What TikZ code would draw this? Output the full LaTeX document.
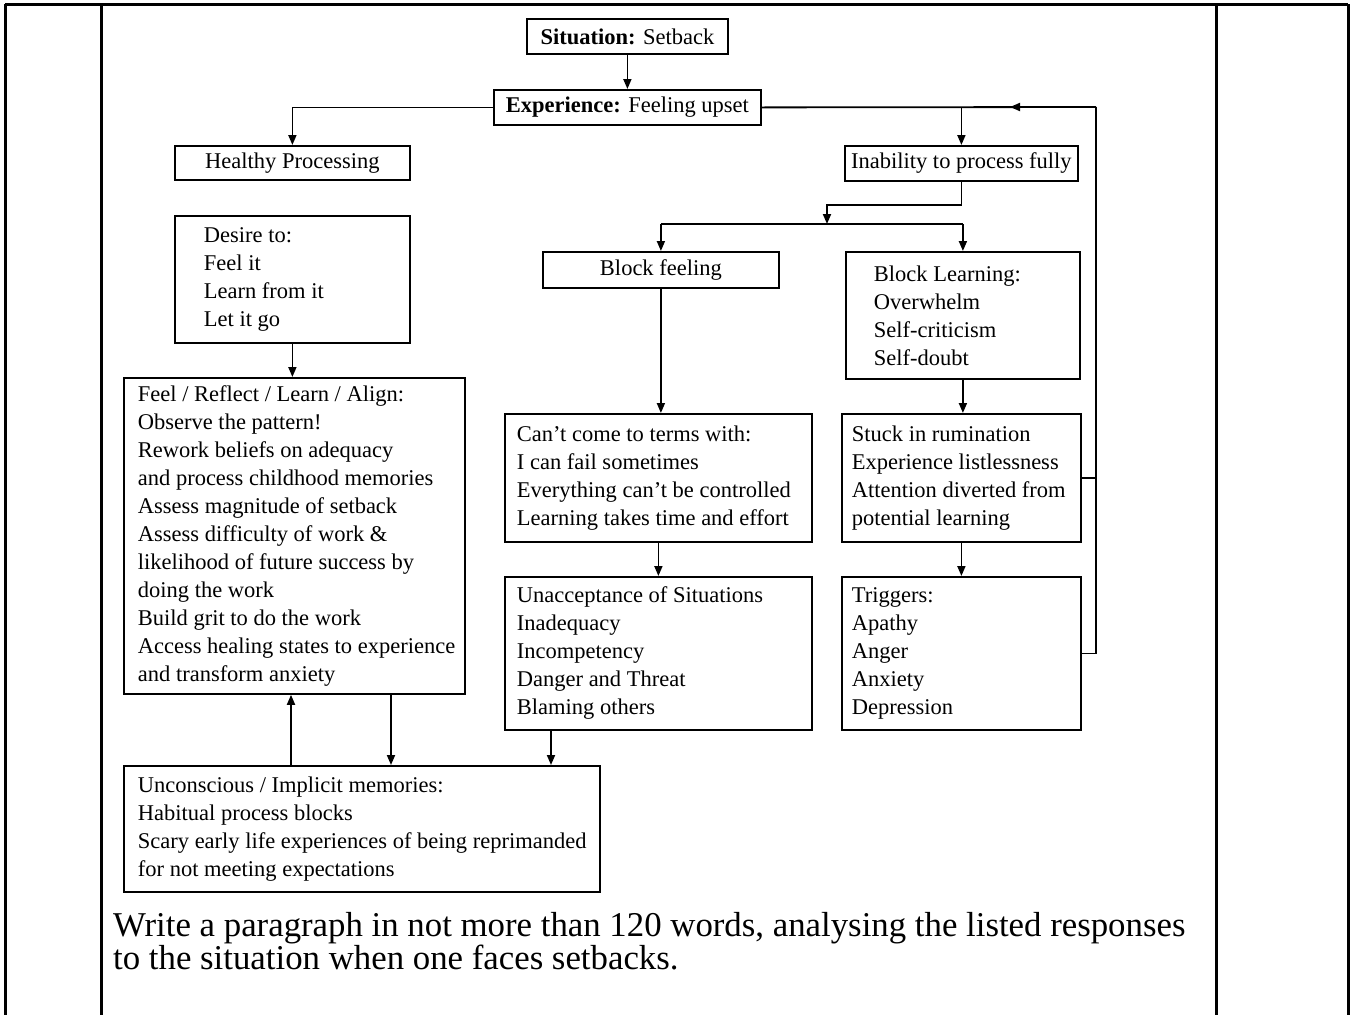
\documentclass[tikz,border=0pt]{standalone}
\usepackage{fontspec}
\setmainfont{Liberation Serif}
\usetikzlibrary{arrows.meta,calc}
\newcommand{\diagfont}{\fontsize{22.5}{28}\selectfont}
\newcommand{\askfont}{\fontsize{34.8}{33}\selectfont}
\newcommand{\ol}[1]{\mbox{#1}}
\begin{document}
\begin{tikzpicture}[x=1pt,y=-1pt,
  box/.style={draw, line width=1.8pt, anchor=north west, inner ysep=0pt, font=\diagfont},
  cbox/.style={box, align=center, inner xsep=2pt},
  lbox/.style={box, align=flush left},
  arr/.style={line width=1.8pt, -{Triangle[length=10pt,width=8pt]}},
  con/.style={line width=1.8pt},
  tab/.style={line width=3pt}]
\useasboundingbox (0,0) rectangle (1354,1015);
% table frame
\draw[tab] (5,4) -- (1348,4);
\draw[tab] (5,4) -- (5,1015);
\draw[tab] (101,4) -- (101,1015);
\draw[tab] (1216,4) -- (1216,1015);
\draw[tab] (1348,4) -- (1348,1015);
% boxes
\node[cbox, minimum width=201, minimum height=35] (sit) at (526,18) {\textbf{Situation:} Setback};
\node[cbox, minimum width=267, minimum height=35] (exp) at (493,89) {\textbf{Experience:} Feeling upset};
\node[cbox, minimum width=235, minimum height=34] (hp) at (174,145) {Healthy Processing};
\node[cbox, minimum width=233, minimum height=35] (inab) at (844,145) {Inability to process fully};
\node[cbox, minimum width=236, minimum height=36] (bf) at (542,251) {Block feeling};
\node[lbox, minimum width=235, minimum height=127, inner xsep=29, text width=177] (desire) at (174,215)
  {\ol{Desire to:}\\\ol{Feel it}\\\ol{Learn from it}\\\ol{Let it go}};
\node[lbox, minimum width=234, minimum height=127, inner xsep=28, text width=178] (bl) at (845,251)
  {\ol{Block Learning:}\\\ol{Overwhelm}\\\ol{Self-criticism}\\\ol{Self-doubt}};
\node[lbox, minimum width=341, minimum height=316, inner xsep=14, text width=313] (feel) at (123,377)
  {\ol{Feel / Reflect / Learn / Align:}\\\ol{Observe the pattern!}\\\ol{Rework beliefs on adequacy}\\\ol{and process childhood memories}\\\ol{Assess magnitude of setback}\\\ol{Assess difficulty of work \&}\\\ol{likelihood of future success by}\\\ol{doing the work}\\\ol{Build grit to do the work}\\\ol{Access healing states to experience}\\\ol{and transform anxiety}};
\node[lbox, minimum width=307, minimum height=128, inner xsep=12, text width=283] (cant) at (504,413)
  {\ol{Can't come to terms with:}\\\ol{I can fail sometimes}\\\ol{Everything can't be controlled}\\\ol{Learning takes time and effort}};
\node[lbox, minimum width=239, minimum height=128, inner xsep=10, text width=219] (stuck) at (841,413)
  {\ol{Stuck in rumination}\\\ol{Experience listlessness}\\\ol{Attention diverted from}\\\ol{potential learning}};
\node[lbox, minimum width=307, minimum height=153, inner xsep=12, text width=283] (unacc) at (504,576)
  {\ol{Unacceptance of Situations}\\\ol{Inadequacy}\\\ol{Incompetency}\\\ol{Danger and Threat}\\\ol{Blaming others}};
\node[lbox, minimum width=239, minimum height=153, inner xsep=10, text width=219] (trig) at (841,576)
  {\ol{Triggers:}\\\ol{Apathy}\\\ol{Anger}\\\ol{Anxiety}\\\ol{Depression}};
\node[lbox, minimum width=476, minimum height=126, inner xsep=14, text width=448] (unc) at (123,765)
  {\ol{Unconscious / Implicit memories:}\\\ol{Habitual process blocks}\\\ol{Scary early life experiences of being reprimanded}\\\ol{for not meeting expectations}};
% question text
\node[anchor=north west, inner sep=0pt, align=flush left, text width=1100, font=\askfont] (ask) at (113,912)
  {\ol{Write a paragraph in not more than 120 words, analysing the listed responses}\\\ol{to the situation when one faces setbacks.}};
% connectors
\coordinate (fbtop) at (1096,107);
\coordinate (fbtip) at (1010,107);
\coordinate (bend) at (827,205);
\coordinate (split) at (827,224);
\coordinate (jl) at (bf.north |- split);
\coordinate (jr) at (bl.north |- split);
\coordinate (u1) at (291,765);
\coordinate (u2) at (391,693);
\coordinate (u3) at (551,729);
\draw[arr] (sit) -- (exp);
\draw[arr] (exp.west) -| (hp.north);
\draw[con] (exp.east) -- (fbtop);
\draw[arr] (fbtop) -- (fbtip);
\draw[arr] (inab.north |- exp.east) -- (inab.north);
\draw[arr] (inab.south) |- (bend) -- (split);
\draw[con] (jl) -- (jr);
\draw[arr] (jl) -- (bf.north);
\draw[arr] (jr) -- (bl.north);
\draw[arr] (bf.south) -- (bf.south |- cant.north);
\draw[arr] (cant.south) -- (unacc.north);
\draw[arr] (bl.south) -- (bl.south |- stuck.north);
\draw[arr] (stuck.south) -- (trig.north);
\draw[arr] (desire.south) -- (desire.south |- feel.north);
\draw[con] (stuck.east) -- (stuck.east -| fbtop);
\draw[con] (trig.east) -| (fbtop);
\draw[arr] (u1) -- (u1 |- feel.south);
\draw[arr] (u2) -- (u2 |- unc.north);
\draw[arr] (u3) -- (u3 |- unc.north);
\end{tikzpicture}
\end{document}
